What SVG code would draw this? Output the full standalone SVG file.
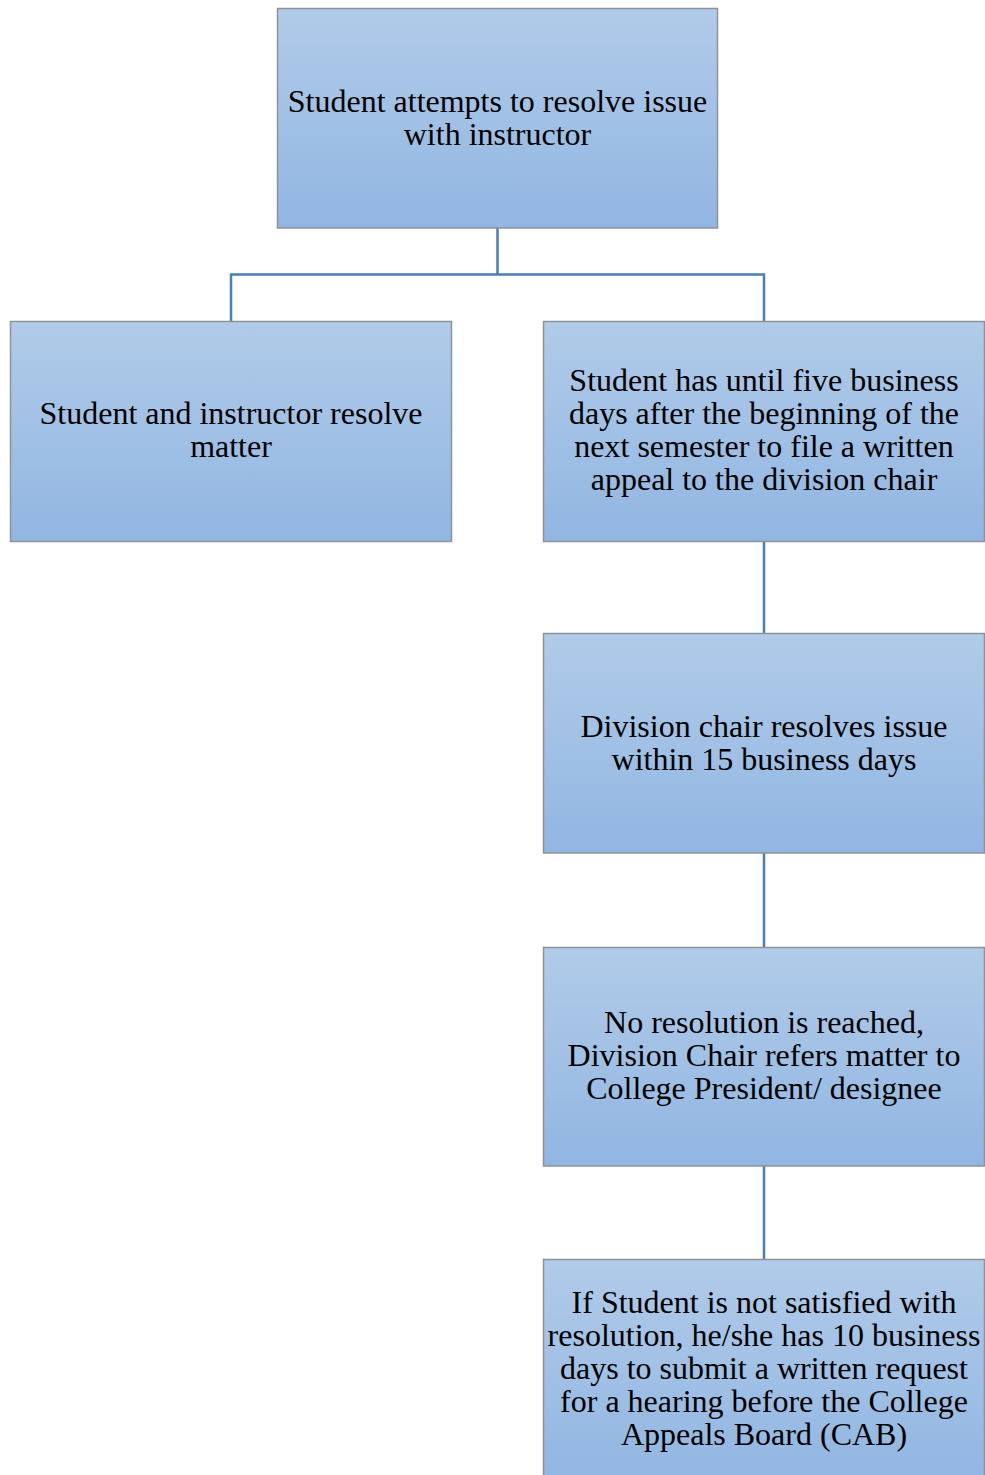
<svg xmlns="http://www.w3.org/2000/svg" width="985" height="1475" viewBox="0 0 985 1475">
<defs>
<linearGradient id="g" x1="0" y1="0" x2="0" y2="1">
<stop offset="0" stop-color="#b1cbe9"/>
<stop offset="1" stop-color="#91b6e2"/>
</linearGradient>
<style>
.box{fill:url(#g);stroke:#8e9299;stroke-width:1.5}
.t{font-family:"Liberation Serif","Times New Roman",serif;font-size:32px;fill:#000;text-anchor:middle}
.c{fill:none;stroke:#4a7eb5;stroke-width:2.5}
</style>
</defs>
<g id="connectors">
<path class="c" d="M497.5 228 V274.5 M231 321 V274.5 H764 V321"/>
<path class="c" d="M764 542 V633 M764 853 V947 M764 1166 V1259"/>
</g>
<g id="n1">
<rect class="box" x="277.5" y="8.5" width="440" height="219.5"/>
<text class="t" x="497.5" y="112">Student attempts to resolve issue</text>
<text class="t" x="497.5" y="145">with instructor</text>
</g>
<g id="n2">
<rect class="box" x="10.5" y="321.5" width="441" height="220"/>
<text class="t" x="231" y="424">Student and instructor resolve</text>
<text class="t" x="231" y="457">matter</text>
</g>
<g id="n3">
<rect class="box" x="543.5" y="321.5" width="441" height="220"/>
<text class="t" x="764" y="391">Student has until five business</text>
<text class="t" x="764" y="424">days after the beginning of the</text>
<text class="t" x="764" y="457">next semester to file a written</text>
<text class="t" x="764" y="490">appeal to the division chair</text>
</g>
<g id="n4">
<rect class="box" x="543.5" y="633.5" width="441" height="219.5"/>
<text class="t" x="764" y="737">Division chair resolves issue</text>
<text class="t" x="764" y="770">within 15 business days</text>
</g>
<g id="n5">
<rect class="box" x="543.5" y="947.5" width="441" height="218.5"/>
<text class="t" x="764" y="1033">No resolution is reached,</text>
<text class="t" x="764" y="1066">Division Chair refers matter to</text>
<text class="t" x="764" y="1099">College President/ designee</text>
</g>
<g id="n6">
<rect class="box" x="543.5" y="1259.5" width="441" height="220"/>
<text class="t" x="764" y="1313">If Student is not satisfied with</text>
<text class="t" x="764" y="1346">resolution, he/she has 10 business</text>
<text class="t" x="764" y="1379">days to submit a written request</text>
<text class="t" x="764" y="1412">for a hearing before the College</text>
<text class="t" x="764" y="1445">Appeals Board (CAB)</text>
</g>
</svg>
